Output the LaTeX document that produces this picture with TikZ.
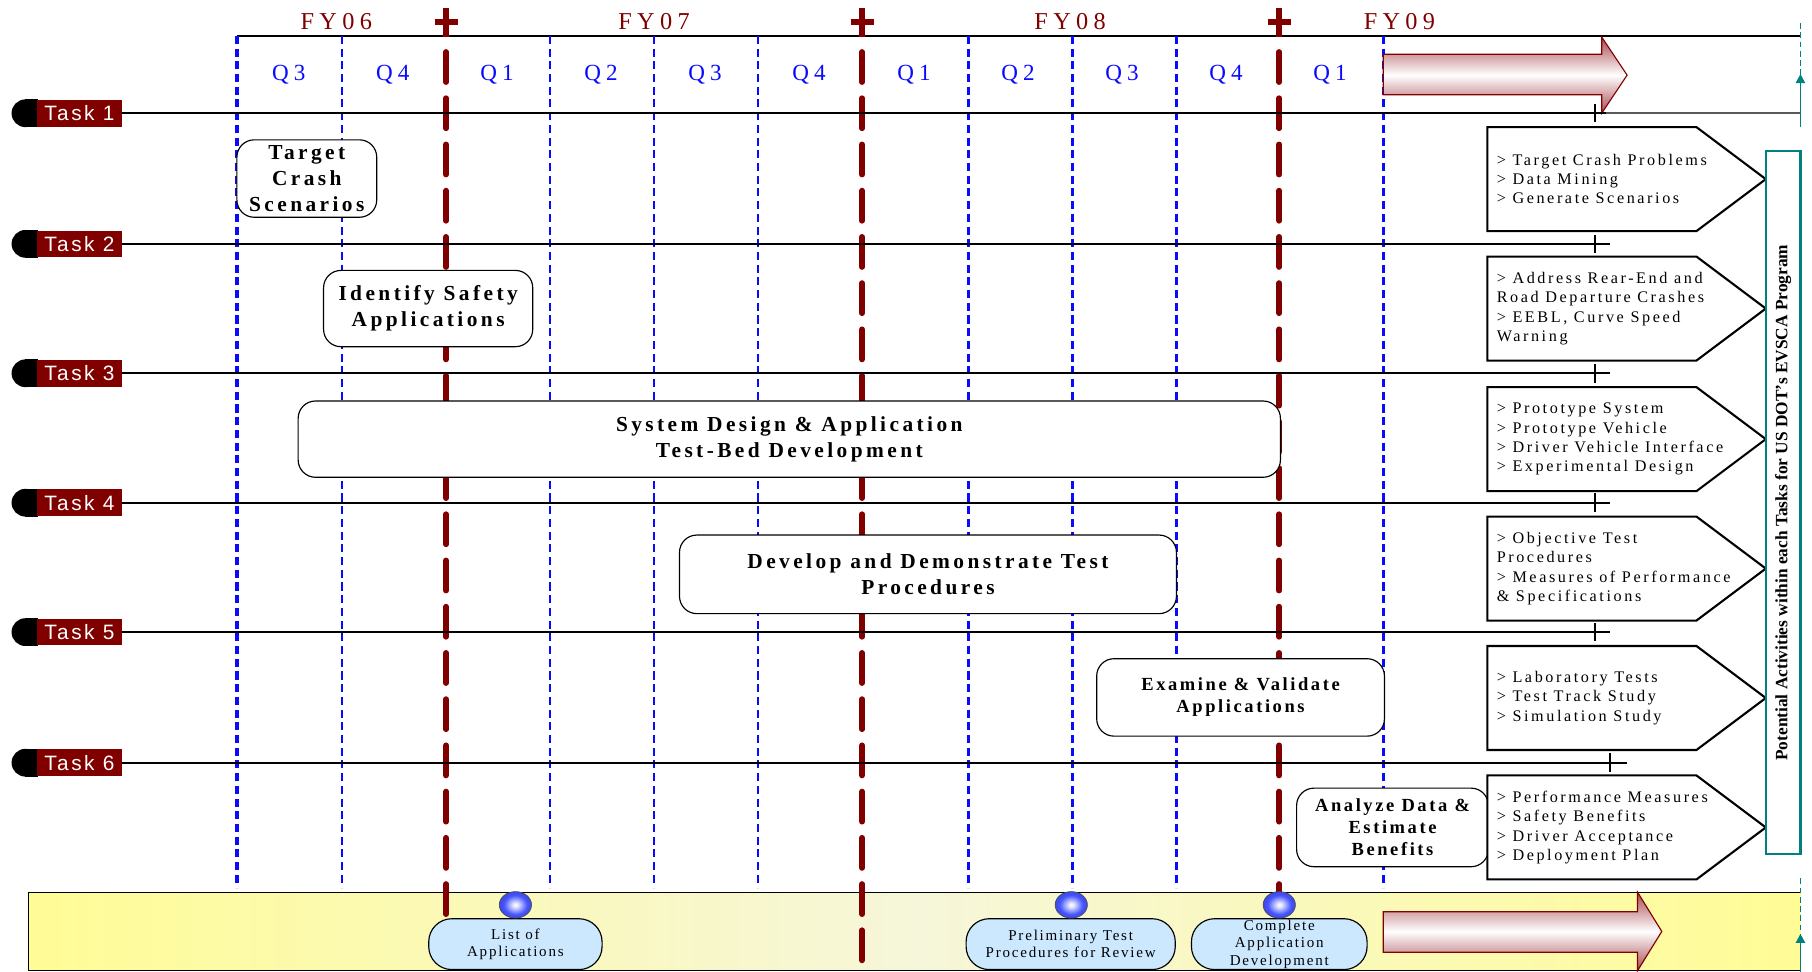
\documentclass[tikz,border=0pt]{standalone}
\usepackage{fontspec}
\setmainfont{Liberation Serif}
\newfontfamily\lsfont[LetterSpace=16]{Liberation Serif}
\newfontfamily\lsfontb[LetterSpace=14]{Liberation Serif}
\newfontfamily\qfont[LetterSpace=22]{Liberation Serif}
\newfontfamily\tkfont[LetterSpace=12]{Liberation Sans}
\newfontfamily\pfont[LetterSpace=16]{Liberation Serif}
\newfontfamily\msfont[LetterSpace=12]{Liberation Serif}
\usetikzlibrary{shapes.geometric, arrows.meta}
\definecolor{fyred}{RGB}{128,0,0}
\definecolor{qblue}{RGB}{10,10,255}
\definecolor{tealc}{RGB}{0,128,128}
\definecolor{msblue}{RGB}{204,232,255}
\definecolor{arrowred}{RGB}{168,72,80}
\definecolor{bandyel}{RGB}{255,252,150}
\definecolor{bandpale}{RGB}{246,246,218}
\definecolor{ballblue}{RGB}{70,85,255}
\definecolor{balledge}{RGB}{20,20,190}
\pgfdeclareradialshading{bluesphere}{\pgfpoint{0bp}{0bp}}{color(0bp)=(white); color(4bp)=(white!85!ballblue); color(18bp)=(ballblue); color(26bp)=(ballblue!85!black); color(30bp)=(balledge); color(50bp)=(balledge)}
\begin{document}
\begin{tikzpicture}[x=1pt,y=-1pt,
  bluedash/.style={draw=qblue, line width=2pt, dash pattern=on 7pt off 4pt},
  reddash/.style={draw=fyred, line width=5pt, dash pattern=on 26pt off 14pt, line cap=round},
  redsolid/.style={draw=fyred, line width=5pt},
  fylabel/.style={text=fyred, font=\qfont\fontsize{21}{24}\selectfont},
  qlabel/.style={text=qblue, font=\qfont\fontsize{20}{24}\selectfont},
  tasklabel/.style={fill=fyred, text=white, minimum width=73pt, minimum height=23pt, inner sep=0pt, anchor=west, font=\tkfont\fontsize{18}{20}\selectfont},
  taskline/.style={draw=black, line width=1.7pt},
  actbox/.style={draw=black, fill=white, rounded corners=15pt, line width=1pt, align=center, inner sep=0pt, font=\lsfont\bfseries\fontsize{18.5}{22.5}\selectfont},
  actsmall/.style={actbox, font=\lsfontb\bfseries\fontsize{16}{19}\selectfont},
  pent/.style={draw=black, fill=white, line width=1.8pt, line join=miter},
  penttext/.style={anchor=west, align=left, inner sep=0pt, font=\pfont\fontsize{14}{16.7}\selectfont},
  bigarrow/.style={draw=fyred, line width=1pt, top color=arrowred, bottom color=arrowred, middle color=white},
  sphere/.style={ellipse, draw=black!70, line width=0.5pt, shading=bluesphere, minimum width=28pt, minimum height=23pt, inner sep=0pt},
  stadium/.style={draw=black, fill=msblue, rounded corners=20pt, line width=1pt, align=center, inner sep=0pt, minimum height=44pt, font=\msfont\fontsize{13}{15}\selectfont},
  tealarrow/.style={draw=tealc, line width=1.6pt}
]
\useasboundingbox (0,0) rectangle (1568,841);
\fill[white] (0,0) rectangle (1568,841);

% bottom band
\shade[left color=bandyel, right color=bandyel, middle color=bandpale] (25,772) rectangle (1558,840);
\draw[black, line width=1pt] (1558,772) -- (25,772) -- (25,840) -- (1558,840);

% top line
\draw[black, line width=1.4pt] (205,31) -- (1558,31);

% blue quarter lines
\foreach \x in {296,476,566,656,838,928,1018}
  \draw[bluedash] (\x,31) -- (\x,768);
\foreach \x in {205,1197}
  \draw[bluedash, line width=2.8pt] (\x,31) -- (\x,768);

% red year lines
\foreach \x in {386,746,1107} {
  \draw[reddash] (\x,45) -- (\x,841);
  \draw[redsolid] (\x,7) -- (\x,32);
  \draw[redsolid] (\x-10,19) -- (\x+10,19);
}

% fiscal year labels
\node[fylabel] (fy06) at (291,19) {FY06};
\node[fylabel] (fy07) at (566,19) {FY07};
\node[fylabel] (fy08) at (926,19) {FY08};
\node[fylabel] (fy09) at (1211,19) {FY09};

% quarter labels
\foreach \x/\q [count=\k] in {250/Q3,340/Q4,430/Q1,520/Q2,610/Q3,700/Q4,791/Q1,881/Q2,971/Q3,1061/Q4,1151/Q1}
  \node[qlabel] (q\k) at (\x,65) {\q};

% top arrow
\path[bigarrow] (1197,47) -- (1386,47) -- (1386,32) -- (1408,65) -- (1386,98) -- (1386,82) -- (1197,82) -- cycle;

% teal dashed arrows on right
\draw[tealarrow, dash pattern=on 5pt off 3pt] (1558,20) -- (1558,66);
\draw[tealarrow, -{Triangle[length=8pt,width=8pt]}] (1558,110) -- (1558,64);
\draw[tealarrow, dash pattern=on 5pt off 3pt] (1558,760) -- (1558,810);
\draw[tealarrow, -{Triangle[length=8pt,width=8pt]}] (1558,841) -- (1558,808);

% task rows
\foreach \i/\y in {1/98,2/211,3/323,4/435,5/547,6/660} {
  \fill[black] (22,\y) circle[radius=12];
  \fill[black] (22,\y-12) rectangle (33,\y+12);
  \node[tasklabel] (t\i) at (32,\y) {Task \i};
}
\coordinate (e1) at (1390,98);
\coordinate (f1) at (1558,98);
\draw[taskline] (t1.east) -- (e1);
\draw[draw=black!65, line width=1.7pt] (e1) -- (f1);
\foreach \i/\y in {2/211,3/323,4/435,5/547} {
  \coordinate (e\i) at (1393,\y);
  \draw[taskline] (t\i.east) -- (e\i);
}
\coordinate (e6) at (1408,660);
\draw[taskline] (t6.east) -- (e6);
\foreach \y in {98,211,323,435,547}
  \draw[black, line width=1.8pt] (1380,\y-8) -- (1380,\y+8);
\draw[black, line width=1.8pt] (1393,652) -- (1393,668);

% activity boxes
\node[actbox, minimum width=121pt, minimum height=67pt] (a1) at (265.5,154.5) {Target\\Crash\\Scenarios};
\node[actbox, minimum width=181pt, minimum height=66pt] (a2) at (370.5,267) {Identify Safety\\Applications};
\node[actbox, minimum width=850pt, minimum height=66pt] (a3) at (683,380) {System Design \& Application\\Test-Bed Development};
\node[actbox, minimum width=430pt, minimum height=68pt] (a4) at (803,497) {Develop and Demonstrate Test\\Procedures};
\node[actsmall, minimum width=249pt, minimum height=67pt] (a5) at (1073.5,603.5) {Examine \& Validate\\Applications};
\node[actsmall, minimum width=166pt, minimum height=68pt] (a6) at (1205,716) {Analyze Data \&\\Estimate\\Benefits};

% pentagons with potential activities
\foreach \i/\y in {1/155,2/267,3/380,4/492,5/604,6/716}
  \path[pent] (1287,\y-45) -- (1468,\y-45) -- (1528,\y) -- (1468,\y+45) -- (1287,\y+45) -- cycle;
\node[penttext] (p1) at (1295,155) {> Target Crash Problems\\> Data Mining\\> Generate Scenarios};
\node[penttext] (p2) at (1295,267) {> Address Rear-End and\\Road Departure Crashes\\> EEBL, Curve Speed\\Warning};
\node[penttext] (p3) at (1295,380) {> Prototype System\\> Prototype Vehicle\\> Driver Vehicle Interface\\> Experimental Design};
\node[penttext] (p4) at (1295,492) {> Objective Test\\Procedures\\> Measures of Performance\\\& Specifications};
\node[penttext] (p5) at (1295,604) {> Laboratory Tests\\> Test Track Study\\> Simulation Study};
\node[penttext] (p6) at (1295,716) {> Performance Measures\\> Safety Benefits\\> Driver Acceptance\\> Deployment Plan};

% teal vertical box
\node[draw=tealc, line width=1.8pt, fill=white, rotate=90, minimum width=608pt, minimum height=30pt, inner sep=0pt, font=\bfseries\fontsize{15}{17}\selectfont] (pot) at (1543,435) {Potential Activities within each Tasks for US DOT's EVSCA Program};

% bottom arrow
\path[bigarrow] (1197,789) -- (1417,789) -- (1417,772) -- (1438,806) -- (1417,840) -- (1417,824) -- (1197,824) -- cycle;

% milestones
\node[stadium, minimum width=150pt] (m1) at (446,817) {List of\\Applications};
\node[stadium, minimum width=181pt] (m2) at (926.5,817) {Preliminary Test\\Procedures for Review};
\node[stadium, minimum width=152pt] (m3) at (1107,817) {Complete\\Application\\Development};
\node[sphere] (s1) at (446,783) {};
\node[sphere] (s2) at (927,783) {};
\node[sphere] (s3) at (1107,783) {};
\end{tikzpicture}
\end{document}
